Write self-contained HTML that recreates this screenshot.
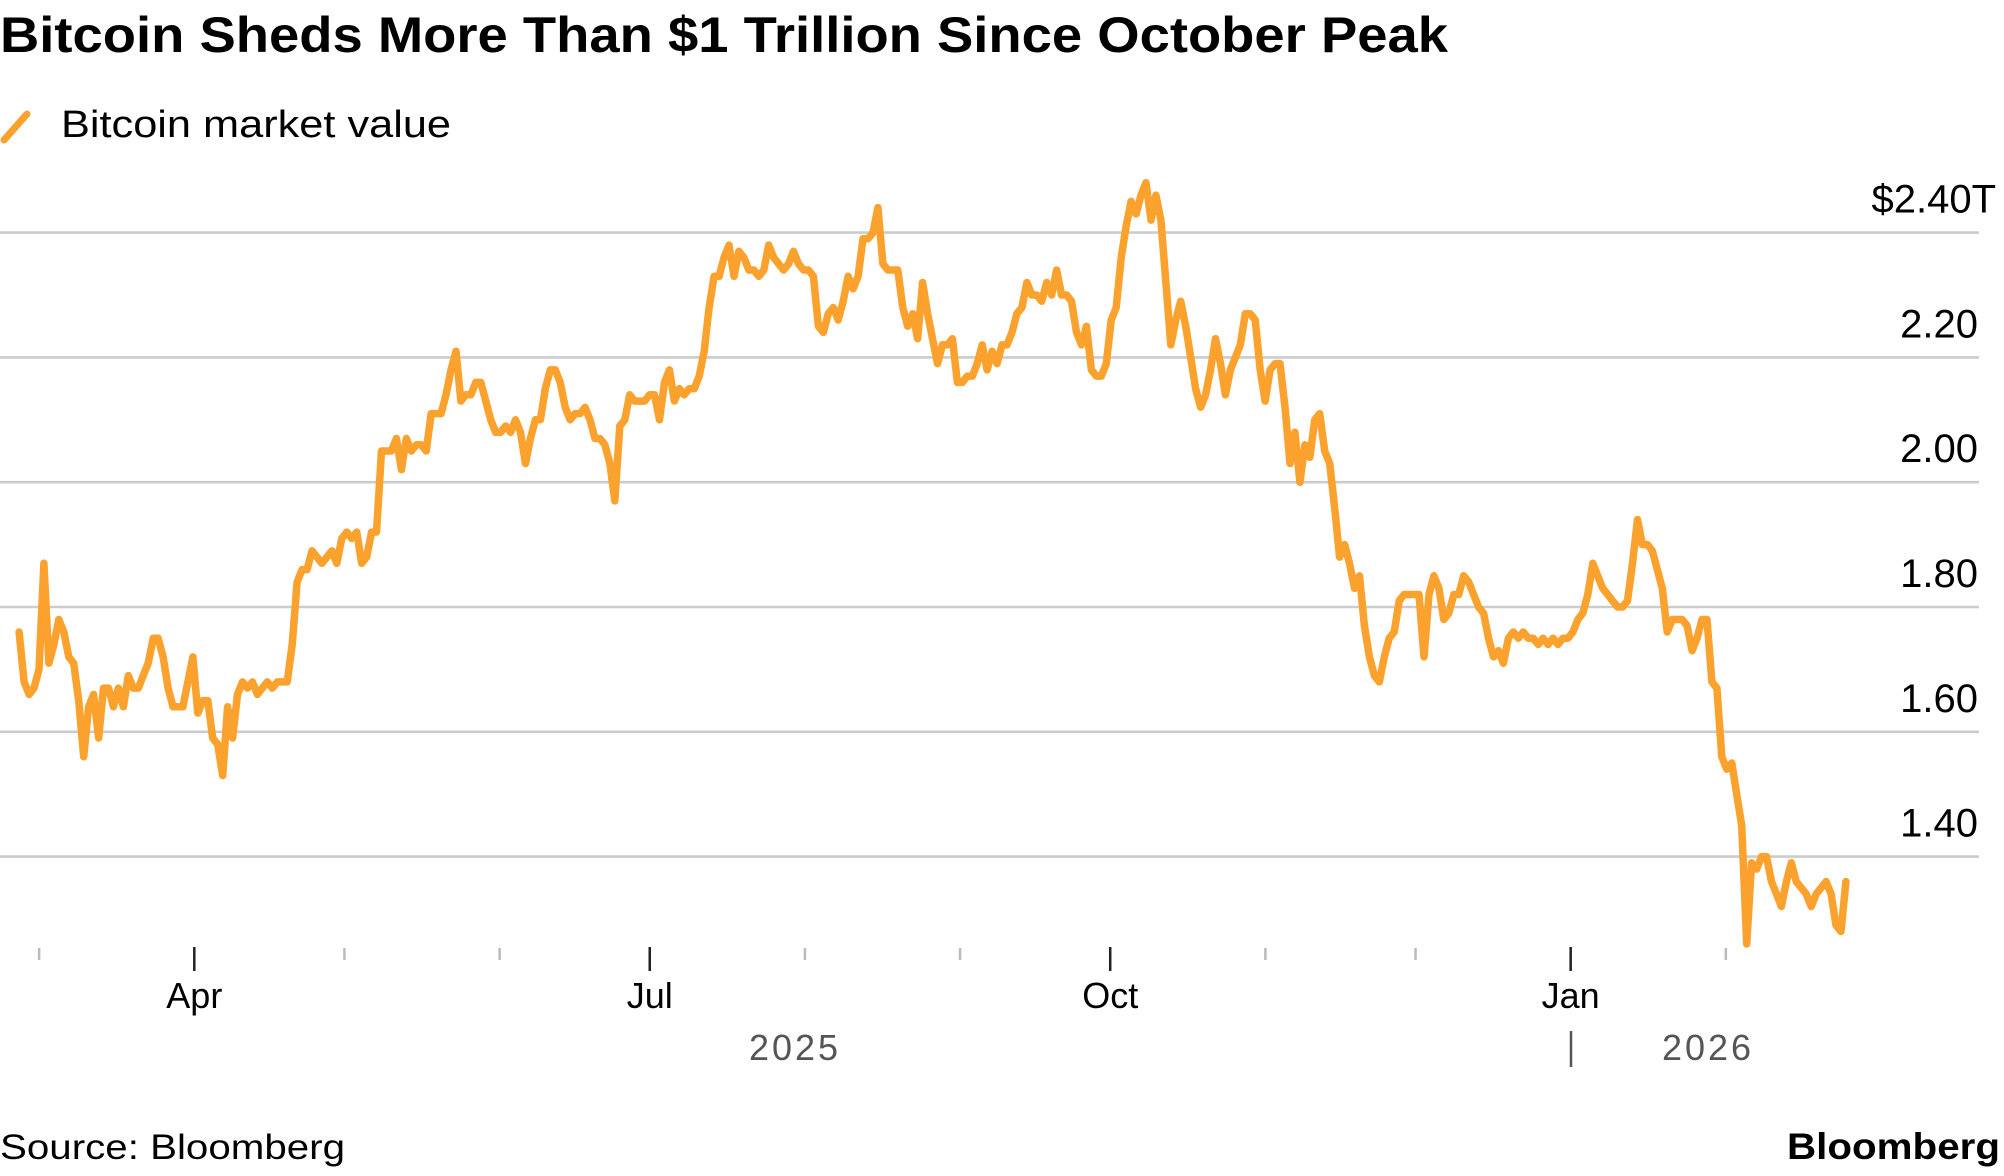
<!DOCTYPE html>
<html><head><meta charset="utf-8">
<style>
html,body{margin:0;padding:0;background:#fff;}
svg{display:block;font-family:"Liberation Sans",Arial,sans-serif;}
</style></head>
<body>
<svg id="chart" width="2004" height="1176" viewBox="0 0 2004 1176">
  <text x="0" y="52" font-size="50" font-weight="bold" fill="#000" textLength="1448" lengthAdjust="spacingAndGlyphs">Bitcoin Sheds More Than $1 Trillion Since October Peak</text>
  <g>
    <line x1="4" y1="140" x2="27" y2="114" stroke="#FAA22D" stroke-width="7" stroke-linecap="round"/>
    <text x="61" y="137" font-size="38" fill="#000" textLength="390" lengthAdjust="spacingAndGlyphs">Bitcoin market value</text>
  </g>
  <g id="grid"></g>
  <g id="yaxis"></g>
  <g id="xaxis"></g>
  <g id="series"></g>
  <text x="795" y="1060" font-size="36" fill="#555" letter-spacing="3" text-anchor="middle">2025</text>
  <line x1="1571" y1="1031" x2="1571" y2="1067" stroke="#555" stroke-width="2.5"/>
  <text x="1708" y="1060" font-size="36" fill="#555" letter-spacing="3" text-anchor="middle">2026</text>
  <text x="0" y="1159" font-size="35" fill="#000" textLength="345" lengthAdjust="spacingAndGlyphs">Source: Bloomberg</text>
  <text x="2000" y="1159" font-size="37" font-weight="bold" fill="#000" text-anchor="end" textLength="213" lengthAdjust="spacingAndGlyphs">Bloomberg</text>
</svg>
<script>
// ---- data ----
const yTicks = [2.40, 2.20, 2.00, 1.80, 1.60, 1.40];
const yTickLabels = ["$2.40T", "2.20", "2.00", "1.80", "1.60", "1.40"];
const monthTickDays = [-31, 0, 30, 61, 91, 122, 153, 183, 214, 244, 275, 306]; // days since 2025-04-01
const monthMajor = [false, true, false, false, true, false, false, true, false, false, true, false];
const monthLabels = ["", "Apr", "", "", "Jul", "", "", "Oct", "", "", "Jan", ""];
const seriesStartDay = -35;  // 2025-02-25
const seriesEndDay = 330;    // 2026-02-25
const marketValue = [
1.76,1.68,1.66,1.67,1.70,1.87,1.71,1.74,1.78,1.76,1.72,1.71,1.65,1.56,1.64,1.66,1.59,1.67,1.67,1.64,
1.67,1.64,1.69,1.67,1.67,1.69,1.71,1.75,1.75,1.72,1.67,1.64,1.64,1.64,1.68,1.72,1.63,1.65,1.65,1.59,
1.58,1.53,1.64,1.59,1.66,1.68,1.67,1.68,1.66,1.67,1.68,1.67,1.68,1.68,1.68,1.74,1.84,1.86,1.86,1.89,
1.88,1.87,1.88,1.89,1.87,1.91,1.92,1.91,1.92,1.87,1.88,1.92,1.92,2.05,2.05,2.05,2.07,2.02,2.07,2.05,
2.06,2.06,2.05,2.11,2.11,2.11,2.14,2.18,2.21,2.13,2.14,2.14,2.16,2.16,2.13,2.10,2.08,2.08,2.09,2.08,
2.10,2.08,2.03,2.07,2.10,2.10,2.15,2.18,2.18,2.16,2.12,2.10,2.11,2.11,2.12,2.10,2.07,2.07,2.06,2.03,
1.97,2.09,2.10,2.14,2.13,2.13,2.13,2.14,2.14,2.10,2.16,2.18,2.13,2.15,2.14,2.15,2.15,2.17,2.21,2.28,
2.33,2.33,2.36,2.38,2.33,2.37,2.36,2.34,2.34,2.33,2.34,2.38,2.36,2.35,2.34,2.35,2.37,2.35,2.34,2.34,
2.33,2.25,2.24,2.27,2.28,2.26,2.29,2.33,2.31,2.33,2.39,2.39,2.40,2.44,2.35,2.34,2.34,2.34,2.28,2.25,
2.27,2.23,2.32,2.27,2.23,2.19,2.22,2.22,2.23,2.16,2.16,2.17,2.17,2.19,2.22,2.18,2.21,2.19,2.22,2.22,
2.24,2.27,2.28,2.32,2.30,2.30,2.29,2.32,2.30,2.34,2.30,2.30,2.29,2.24,2.22,2.25,2.18,2.17,2.17,2.19,
2.26,2.28,2.36,2.41,2.45,2.43,2.46,2.48,2.42,2.46,2.42,2.32,2.22,2.26,2.29,2.25,2.20,2.15,2.12,2.14,
2.18,2.23,2.19,2.14,2.18,2.20,2.22,2.27,2.27,2.26,2.18,2.13,2.18,2.19,2.19,2.12,2.03,2.08,2.00,2.06,
2.04,2.10,2.11,2.05,2.03,1.96,1.88,1.90,1.87,1.83,1.85,1.77,1.72,1.69,1.68,1.72,1.75,1.76,1.81,1.82,
1.82,1.82,1.82,1.72,1.82,1.85,1.83,1.78,1.79,1.82,1.82,1.85,1.84,1.82,1.80,1.79,1.75,1.72,1.73,1.71,
1.75,1.76,1.75,1.76,1.75,1.75,1.74,1.75,1.74,1.75,1.74,1.75,1.75,1.76,1.78,1.79,1.82,1.87,1.85,1.83,
1.82,1.81,1.80,1.80,1.81,1.87,1.94,1.90,1.90,1.89,1.86,1.83,1.76,1.78,1.78,1.78,1.77,1.73,1.75,1.78,
1.78,1.68,1.67,1.56,1.54,1.55,1.50,1.45,1.26,1.39,1.38,1.40,1.40,1.36,1.34,1.32,1.36,1.39,1.36,1.35,
1.34,1.32,1.34,1.35,1.36,1.34,1.29,1.28,1.36
];
// ---- scales ----
const NS = "http://www.w3.org/2000/svg";
function xScale(day){ return 194.3 + day * 5.005; }
function yScale(v){ return 232.6 + (2.40 - v) * 624; }

const grid = document.getElementById('grid');
const yaxis = document.getElementById('yaxis');
yTicks.forEach((t, i) => {
  const ln = document.createElementNS(NS, 'line');
  ln.setAttribute('x1', 0); ln.setAttribute('x2', 1979);
  ln.setAttribute('y1', yScale(t)); ln.setAttribute('y2', yScale(t));
  ln.setAttribute('stroke', '#cccccc'); ln.setAttribute('stroke-width', 2.6);
  
  
  grid.appendChild(ln);
  const tx = document.createElementNS(NS, 'text');
  tx.setAttribute('x', i === 0 ? 1996 : 1978);
  tx.setAttribute('y', yScale(t) - 20);
  tx.setAttribute('text-anchor', 'end');
  tx.setAttribute('font-size', '40');
  tx.setAttribute('fill', '#000');
  tx.textContent = yTickLabels[i];
  
  
  yaxis.appendChild(tx);
});

const xaxis = document.getElementById('xaxis');
monthTickDays.forEach((d, i) => {
  const x = xScale(d);
  const tk = document.createElementNS(NS, 'line');
  tk.setAttribute('x1', x); tk.setAttribute('x2', x);
  tk.setAttribute('y1', monthMajor[i] ? 947 : 948);
  tk.setAttribute('y2', monthMajor[i] ? 971 : 960);
  tk.setAttribute('stroke', monthMajor[i] ? '#222' : '#bbb');
  tk.setAttribute('stroke-width', 2.5);
  
  
  xaxis.appendChild(tk);
  if (monthLabels[i]) {
    const tx = document.createElementNS(NS, 'text');
    tx.setAttribute('x', x); tx.setAttribute('y', 1008);
    tx.setAttribute('text-anchor', 'middle');
    tx.setAttribute('font-size', '36');
    tx.setAttribute('fill', '#000');
    tx.textContent = monthLabels[i];
    
    
    xaxis.appendChild(tx);
  }
});

const series = document.getElementById('series');
const n = marketValue.length;
const step = (seriesEndDay - seriesStartDay) / (n - 1);
let dStr = '';
marketValue.forEach((v, i) => {
  const x = xScale(seriesStartDay + i * step);
  dStr += (i ? 'L' : 'M') + x.toFixed(1) + ',' + yScale(v).toFixed(1);
});
const path = document.createElementNS(NS, 'path');
path.setAttribute('d', dStr);
path.setAttribute('fill', 'none');
path.setAttribute('stroke', '#FAA22D');
path.setAttribute('stroke-width', 7.5);
path.setAttribute('stroke-linejoin', 'round');
path.setAttribute('stroke-linecap', 'round');


series.appendChild(path);
</script>
</body></html>
